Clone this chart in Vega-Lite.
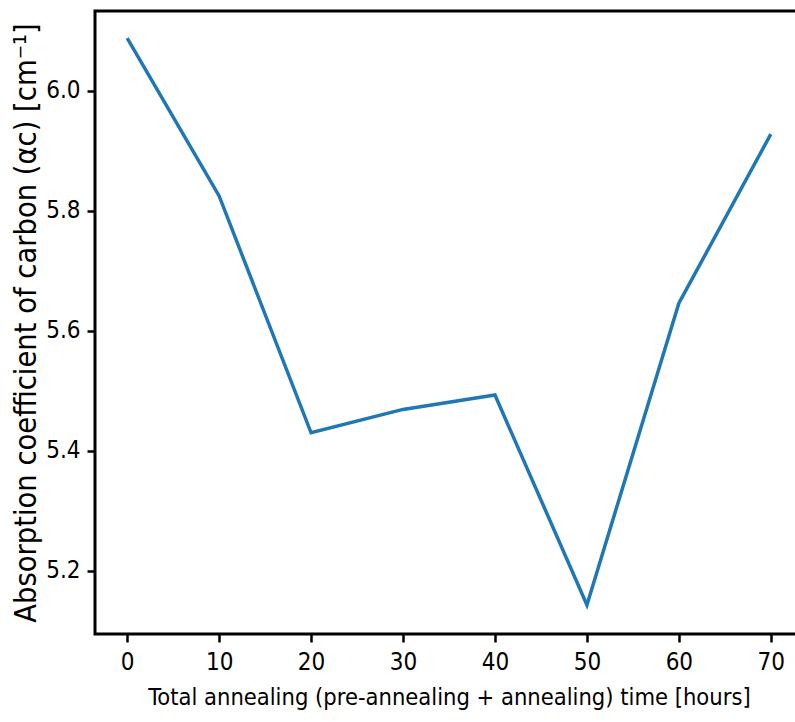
{
  "$schema": "https://vega.github.io/schema/vega-lite/v6.json",
  "autosize": "none",
  "width": 708,
  "height": 623,
  "padding": {"left": 95, "top": 11, "right": 0, "bottom": 88},
  "background": "white",
  "config": {
    "view": {"stroke": "black", "strokeWidth": 3},
    "axis": {
      "grid": false,
      "domain": false,
      "tickColor": "black",
      "tickWidth": 2.5,
      "tickSize": 8,
      "labelFont": "DejaVu Sans Condensed",
      "labelFontSize": 24,
      "labelColor": "black",
      "titleFont": "DejaVu Sans Condensed",
      "titleFontSize": 23.5,
      "titleFontWeight": "normal",
      "titleColor": "black",
      "labelPadding": 6
    }
  },
  "data": {
    "values": [
      {"t": 0, "a": 6.088},
      {"t": 10, "a": 5.825},
      {"t": 20, "a": 5.43},
      {"t": 30, "a": 5.469},
      {"t": 40, "a": 5.493},
      {"t": 50, "a": 5.143},
      {"t": 60, "a": 5.646},
      {"t": 70, "a": 5.928}
    ]
  },
  "mark": {"type": "line", "color": "#1f77b4", "strokeWidth": 3.5, "clip": true},
  "encoding": {
    "x": {
      "field": "t",
      "type": "quantitative",
      "scale": {"domain": [-3.5, 73.5], "nice": false, "zero": false},
      "axis": {"values": [0, 10, 20, 30, 40, 50, 60, 70], "title": "Total annealing (pre-annealing + annealing) time [hours]", "titlePadding": 11, "labelPadding": 8}
    },
    "y": {
      "field": "a",
      "type": "quantitative",
      "scale": {"domain": [5.0945, 6.1333], "nice": false, "zero": false},
      "axis": {"values": [5.2, 5.4, 5.6, 5.8, 6.0], "format": ".1f", "title": "Absorption coefficient of carbon (αc) [cm⁻¹]", "titleFontSize": 30.5, "titlePadding": 4, "labelPadding": 7}
    }
  }
}
